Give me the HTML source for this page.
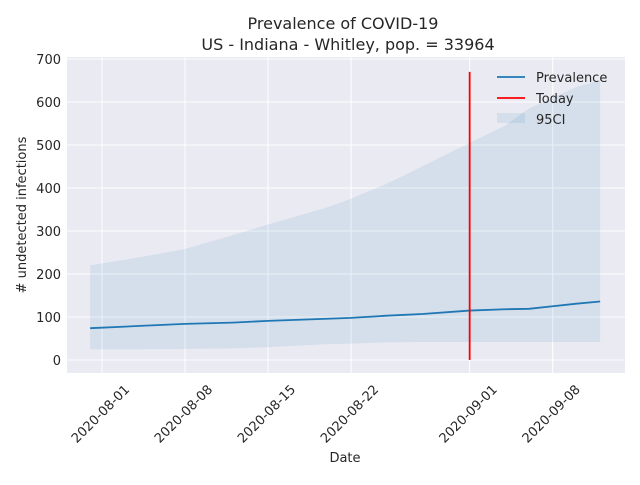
<!DOCTYPE html>
<html><head><meta charset="utf-8"><style>
body{margin:0;background:#fff;font-family:"Liberation Sans","DejaVu Sans",sans-serif;}
</style></head><body>
<svg width="640" height="480" xmlns="http://www.w3.org/2000/svg" font-family="DejaVu Sans, Liberation Sans, sans-serif">
<rect x="0" y="0" width="640" height="480" fill="#fff"/>
<rect x="67" y="57" width="558" height="316" fill="#eaeaf2"/>
<g id="grid"></g>
<g id="marks"></g>
<g id="ticks" font-size="13" fill="#262626"></g>
<text x="343" y="29" text-anchor="middle" font-size="16" fill="#262626">Prevalence of COVID-19</text>
<text x="348" y="50" text-anchor="middle" font-size="16" fill="#262626">US - Indiana - Whitley, pop. = 33964</text>
<text x="345" y="462" text-anchor="middle" font-size="13" fill="#262626">Date</text>
<text transform="translate(26,215) rotate(-90)" text-anchor="middle" font-size="13" fill="#262626"># undetected infections</text>
<g font-size="13" fill="#262626">
<line x1="497" y1="77" x2="525" y2="77" stroke="#1f77b4" stroke-width="1.8"/>
<text x="536" y="82">Prevalence</text>
<line x1="497" y1="98" x2="525" y2="98" stroke="#ff0000" stroke-width="1.8"/>
<text x="536" y="103">Today</text>
<rect x="497" y="113" width="28" height="10" fill="#1f77b4" fill-opacity="0.1"/>
<text x="536" y="124">95CI</text>
</g>
</svg>
<script>
// day offsets from 2020-08-01
const days   = [-1, 3, 7, 11, 14, 19, 21, 24, 27, 31, 34, 36, 38, 40, 42];
const prev   = [74, 79, 84, 87, 91, 96, 98, 103, 107, 115, 118, 119, 125, 131, 136];
const upper  = [220, 238, 258, 290, 315, 355, 375, 410, 450, 505, 545, 585, 610, 635, 650];
const lower  = [25, 25, 26, 27, 30, 37, 38, 41, 42, 42, 42, 42, 42, 42, 42];
const yTicks = [0, 100, 200, 300, 400, 500, 600, 700];
const xTickDays = [0, 7, 14, 21, 31, 38];
const xTickLabels = ["2020-08-01","2020-08-08","2020-08-15","2020-08-22","2020-09-01","2020-09-08"];
const todayDay = 31;
const todayRange = [0, 670];

const X = d => 102 + d * 11.86;
const Y = v => 360 - v * 0.43;
const NS = "http://www.w3.org/2000/svg";
function mk(tag, attrs, parent){const e=document.createElementNS(NS,tag);for(const k in attrs)e.setAttribute(k,attrs[k]);document.getElementById(parent).appendChild(e);return e;}

yTicks.forEach(v=>{
  const l=mk("line",{x1:67,x2:625,y1:Y(v),y2:Y(v),stroke:"#fff","stroke-width":1},"grid");
  
  
  const t=mk("text",{x:61,y:Y(v)+5,"text-anchor":"end"},"ticks");
  t.textContent=v;
  
  
});
xTickDays.forEach((d,i)=>{
  const l=mk("line",{x1:X(d),x2:X(d),y1:57,y2:373,stroke:"#fff","stroke-width":1},"grid");
  
  
  const t=mk("text",{transform:`translate(${X(d)+22},${384}) rotate(-45)`,"text-anchor":"end","dominant-baseline":"hanging"},"ticks");
  t.textContent=xTickLabels[i];
  
  
});
let pts=days.map((d,i)=>X(d)+","+Y(upper[i]));
for(let i=days.length-1;i>=0;i--)pts.push(X(days[i])+","+Y(lower[i]));
const band=mk("polygon",{points:pts.join(" "),fill:"#1f77b4","fill-opacity":0.1},"marks");


const line=mk("polyline",{points:days.map((d,i)=>X(d)+","+Y(prev[i])).join(" "),fill:"none",stroke:"#1f77b4","stroke-width":1.8},"marks");


const today=mk("line",{x1:X(todayDay),x2:X(todayDay),y1:Y(todayRange[0]),y2:Y(todayRange[1]),stroke:"#ff0000","stroke-width":1.8},"marks");


</script>
</body></html>
